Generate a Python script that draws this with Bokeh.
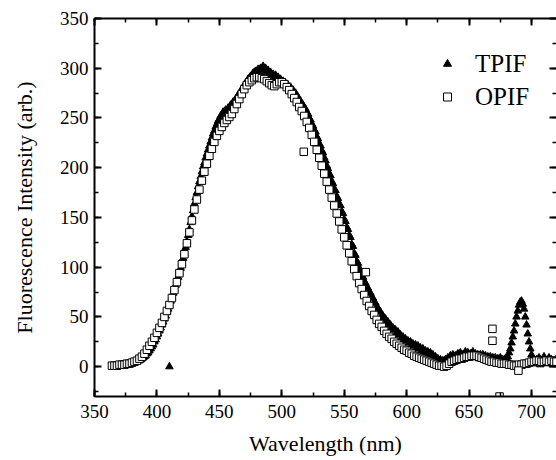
from bokeh.plotting import figure
from bokeh.models import (LinearAxis, Range1d, Legend, LegendItem, ColumnDataSource,
                          SingleIntervalTicker, CustomJSTickFormatter)
from bokeh.embed import file_html
from bokeh.resources import INLINE

# ---- data ----
# TPIF, one value per nm starting at 366 nm
tpif_start = 366
tpif_val = [0, 0, 1, 1, 1, 1, 2, 2, 2, 2, 2, 3, 3, 3,
            3, 4, 4, 5, 5, 6, 6, 7, 8, 9,
            10, 11, 13, 14, 16, 18, 20, 22, 25, 27,
            30, 33, 36, 39, 42, 45, 48, 51, 55, 58,
            62, 66, 70, 74, 78, 82, 86, 90, 95, 99,
            104, 109, 114, 120, 126, 132, 138, 145, 151, 157,
            164, 170, 175, 181, 186, 191, 196, 201, 205, 210,
            214, 218, 222, 226, 230, 234, 237, 241, 244, 247,
            249, 252, 253, 256, 255, 258, 257, 260, 259, 263,
            262, 266, 266, 269, 270, 273, 274, 277, 278, 281,
            282, 285, 286, 289, 290, 292, 293, 295, 296, 297,
            297, 299, 298, 300, 299, 302, 300, 300, 297, 298,
            295, 296, 293, 294, 291, 293, 290, 291, 288, 289,
            286, 287, 284, 285, 282, 283, 280, 281, 278, 278,
            275, 275, 272, 271, 268, 267, 264, 263, 260, 259,
            256, 254, 250, 248, 244, 242, 238, 236, 231, 229,
            224, 222, 217, 215, 210, 207, 202, 199, 194, 192,
            186, 184, 178, 177, 171, 169, 163, 162, 156, 154,
            148, 146, 140, 138, 132, 130, 123, 121, 114, 112,
            106, 104, 99, 97, 92, 90, 86, 84, 80, 79,
            75, 74, 70, 69, 65, 64, 60, 59, 56, 55,
            51, 51, 48, 48, 45, 45, 42, 42, 39, 39,
            37, 37, 34, 35, 32, 32, 29, 30, 27, 28,
            26, 26, 24, 25, 22, 23, 21, 22, 19, 21,
            18, 19, 16, 18, 15, 16, 13, 15, 12, 14,
            11, 12, 9, 10, 7, 8, 5, 7, 4, 6,
            4, 7, 6, 9, 8, 11, 9, 12, 10, 11,
            8, 13, 10, 14, 9, 12, 11, 15, 10, 14,
            11, 13, 12, 15, 9, 13, 11, 12, 8, 12,
            9, 12, 7, 11, 8, 10, 6, 10, 7, 9,
            5, 9, 4, 8, 6, 9, 3, 7, 5, 8,
            8, 10, 14, 18, 24, 30, 36, 43, 50, 56,
            62, 65, 66, 63, 58, 50, 42, 33, 25, 18,
            12, 8, 6, 3, 7, 4, 9, 2, 6, 5,
            10, 3, 6, 4, 9, 5, 7, 2, 6, 4, 8]
tpif_extra_wl = [410]
tpif_extra_val = [0]

# OPIF, one value per 2 nm starting at 364 nm
opif_start = 364
opif_val = [1, 1, 1, 2, 2, 2, 3, 3, 4, 5, 6, 8, 10, 13, 17, 21, 25, 29, 34, 39,
            44, 50, 56, 62, 69, 77, 85, 94, 103, 113, 124, 135, 147, 158, 168, 178,
            187, 196, 204, 212, 219, 226, 232, 237, 241, 245, 248, 251, 254, 259, 264,
            269, 274, 279, 283, 286, 288, 290, 291, 291, 290, 289, 287, 285, 283, 282,
            284, 286, 286, 284, 281, 278, 274, 270, 266, 261, 257, 252, 246, 240, 233,
            226, 218, 210, 202, 194, 186, 178, 170, 162, 154, 146, 138, 130, 122, 114,
            106, 98, 91, 84, 78, 72, 66, 61, 56, 52, 47, 43, 40, 36, 33, 30, 28, 25,
            23, 21, 19, 17, 16, 14, 13, 11, 10, 9, 8, 7, 6, 5, 4, 3, 2, 1, 1, 0, 1, 3,
            5, 6, 7, 8, 8, 9, 10, 10, 11, 11, 11, 10, 9, 8, 7, 6, 5, 5, 4, 4, 3, 3, 3,
            2, 2, 1, 1, 2, 2, 3, 3, 4, 5, 5, 6, 6, 5, 5, 6, 5, 6, 5, 5]
opif_extra_wl = [517.6, 567.3, 668.7, 668.7, 674.4, 689.5]
opif_extra_val = [216, 95, 38, 26, -30, -4]

x_major_ticks = 50
y_major_ticks = 50

tpif_wl = [tpif_start + i for i in range(len(tpif_val))]
opif_wl = [opif_start + 2 * i for i in range(len(opif_val))]

tpif_src = ColumnDataSource(dict(x=tpif_wl + tpif_extra_wl, y=tpif_val + tpif_extra_val))
opif_src = ColumnDataSource(dict(x=opif_wl + opif_extra_wl, y=opif_val + opif_extra_val))

FONT = "Liberation Serif"

p = figure(width=556, height=460, x_range=Range1d(350, 720), y_range=Range1d(-30, 350),
           output_backend="svg", toolbar_location=None,
           min_border_left=94, min_border_right=0, min_border_top=18, min_border_bottom=64)
p.grid.visible = False
p.outline_line_color = None
p.background_fill_color = "white"
p.border_fill_color = "white"

r1 = p.scatter("x", "y", source=tpif_src, marker="triangle", size=7.5,
               fill_color="black", line_color="black", line_width=1)
r2 = p.scatter("x", "y", source=opif_src, marker="square", size=7.5,
               fill_color="white", line_color="black", line_width=1)


def ticks(ax):
    ax.ticker = SingleIntervalTicker(interval=50, num_minor_ticks=2)
    ax.axis_line_width = 2
    ax.axis_line_color = "black"
    ax.major_tick_in = 7
    ax.major_tick_out = 0
    ax.minor_tick_in = 4
    ax.minor_tick_out = 0
    ax.major_tick_line_width = 2
    ax.minor_tick_line_width = 1.5


def fonts(ax):
    ax.major_label_text_font = FONT
    ax.major_label_text_color = "black"
    ax.major_label_text_font_size = "19px"
    ax.axis_label_text_font = FONT
    ax.axis_label_text_font_style = "normal"
    ax.axis_label_text_font_size = "22px"
    ax.axis_label_text_color = "black"


xb = p.xaxis[0]
ticks(xb)
fonts(xb)
xb.axis_label = "Wavelength (nm)"
xb.major_label_standoff = 8
xb.axis_label_standoff = 10

yl = p.yaxis[0]
ticks(yl)
fonts(yl)
yl.axis_label = "Fluorescence Intensity (arb.)"
yl.major_label_standoff = 6
yl.axis_label_standoff = 20

xt = LinearAxis(formatter=CustomJSTickFormatter(code="return '';"), major_label_standoff=0)
ticks(xt)
p.add_layout(xt, "above")

yr = LinearAxis(formatter=CustomJSTickFormatter(code="return '';"), major_label_standoff=0)
ticks(yr)
yr.axis_line_color = None
p.add_layout(yr, "right")

legend = Legend(items=[LegendItem(label="TPIF", renderers=[r1]),
                       LegendItem(label="OPIF", renderers=[r2])],
                location=(343, 283), padding=0, margin=0, spacing=0,
                glyph_width=20, glyph_height=33, label_height=33, label_standoff=18,
                label_text_font=FONT, label_text_font_size="25px", label_text_color="black",
                border_line_color=None, background_fill_alpha=0)
p.add_layout(legend)

open("out.html", "w").write(file_html(p, INLINE))
